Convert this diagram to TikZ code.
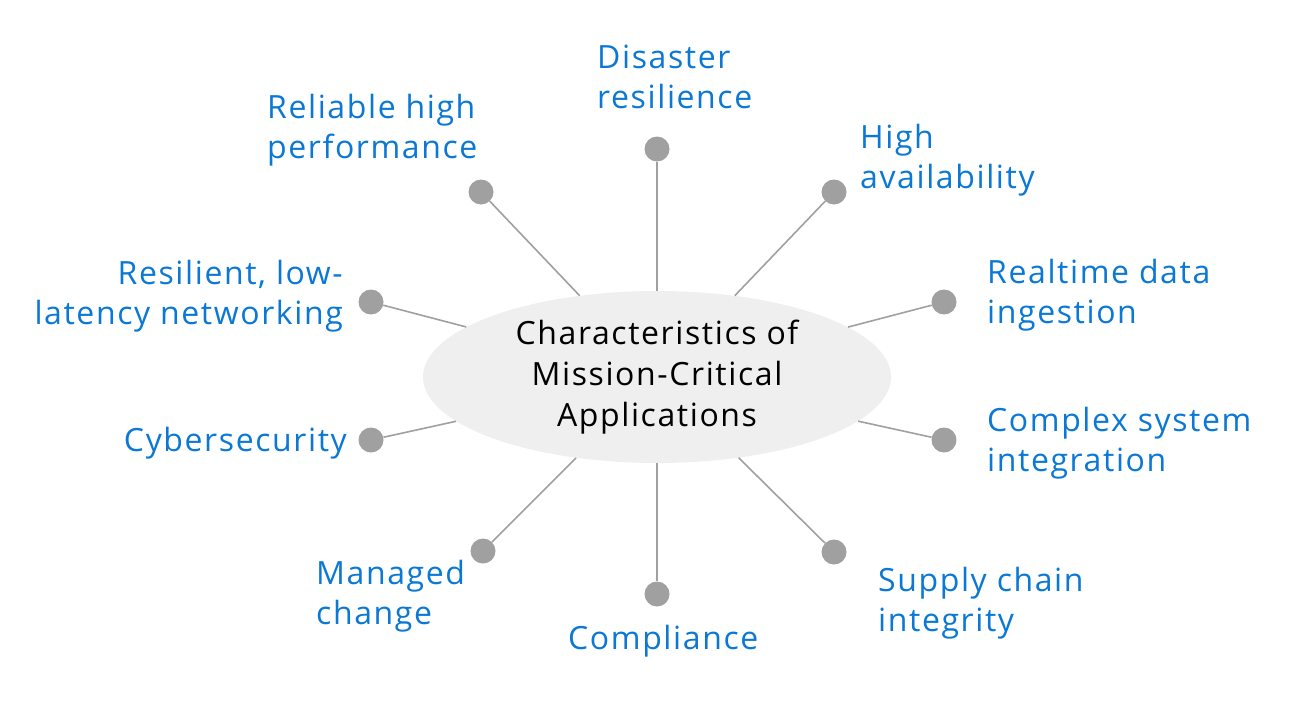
\documentclass[tikz,border=0pt]{standalone}
\usepackage{fontspec}
\setmainfont[LetterSpace=5]{Open Sans}
\usetikzlibrary{shapes.geometric}
\definecolor{lblue}{HTML}{0A78D4}
\definecolor{dotgray}{HTML}{A0A0A0}
\definecolor{linegray}{HTML}{A0A0A0}
\definecolor{ellfill}{HTML}{EFEFEF}
\begin{document}
\begin{tikzpicture}[x=1pt,y=-1pt,
  dotnode/.style={circle,fill=dotgray,minimum size=25pt,inner sep=0pt},
  conn/.style={draw=linegray,line width=1.6pt},
  lbl/.style={text=lblue,inner sep=0pt,font=\fontsize{32}{40.5}\selectfont},
  lblL/.style={lbl,anchor=west,align=left},
  lblR/.style={lbl,anchor=east,align=right},
  hub/.style={ellipse,fill=ellfill,minimum width=468pt,minimum height=172pt,inner sep=0pt,
    align=center,font=\fontsize{32}{41}\selectfont}]
\useasboundingbox (0,0) rectangle (1306,720);
\node[hub] (c) at (657,377) {Characteristics of\\Mission-Critical\\Applications};
\node[dotnode] (d1) at (657,149) {};
\node[dotnode] (d2) at (834,192) {};
\node[dotnode] (d3) at (944,302) {};
\node[dotnode] (d4) at (944,440) {};
\node[dotnode] (d5) at (834,552) {};
\node[dotnode] (d6) at (657,594) {};
\node[dotnode] (d7) at (483,551) {};
\node[dotnode] (d8) at (371,440) {};
\node[dotnode] (d9) at (371,302) {};
\node[dotnode] (d10) at (481,192) {};
\foreach \i in {1,...,10} {\draw[conn] (d\i) -- (c);}
\node[lblL] (t1) at (597,77) {Disaster\\resilience};
\node[lblL] (t2) at (860,160) {High\\availability};
\node[lblL] (t3) at (987,295) {Realtime data\\ingestion};
\node[lblL] (t4) at (987,443) {Complex system\\integration};
\node[lblL] (t5) at (878,603) {Supply chain\\integrity};
\node[lblL] (t6) at (568,641) {Compliance};
\node[lblL] (t7) at (316,596) {Managed\\change};
\node[lblR] (t8) at (347,443) {Cybersecurity};
\node[lblR] (t9) at (343,296) {Resilient, low-\\latency networking};
\node[lblL] (t10) at (267,130) {Reliable high\\performance};
\end{tikzpicture}
\end{document}
